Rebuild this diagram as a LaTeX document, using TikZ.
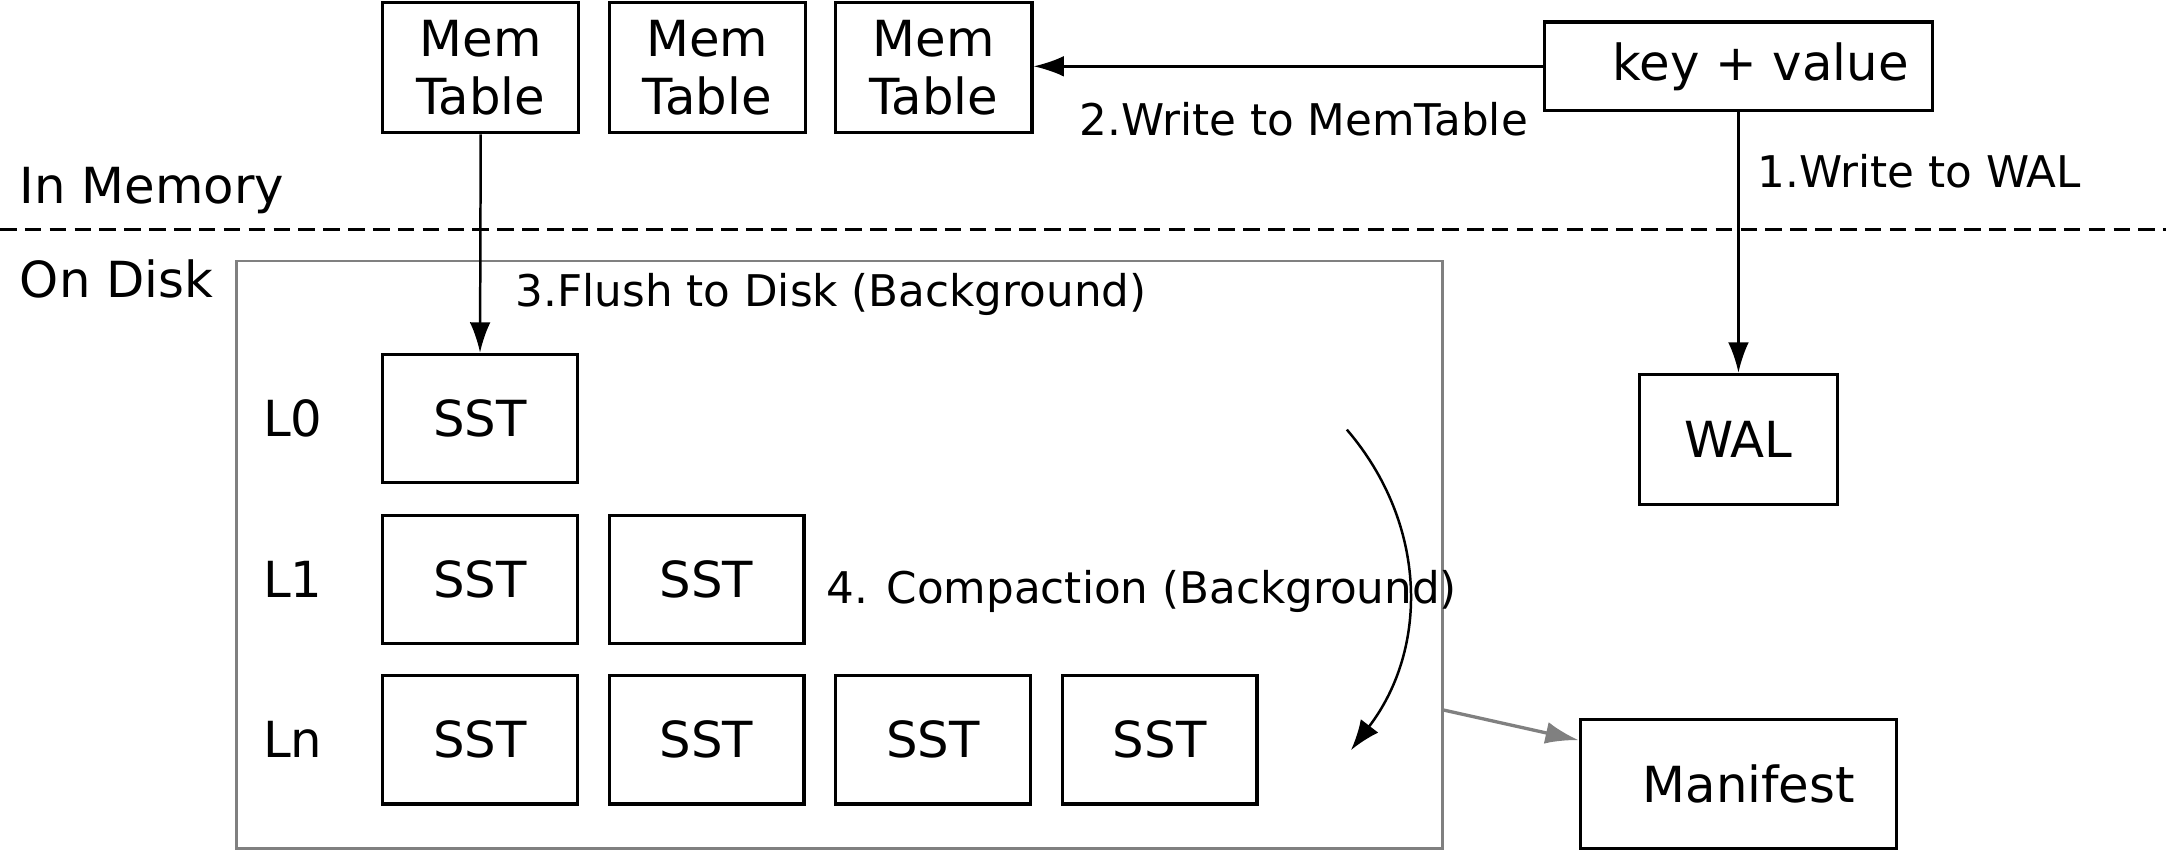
\documentclass[tikz,border=0pt]{standalone}
\usepackage{fontspec}
\setmainfont{DejaVu Sans}
\usetikzlibrary{arrows.meta}

\begin{document}
\begin{tikzpicture}[
	box/.style={draw, line width=1.2pt, inner sep=0pt, align=center,
		font=\fontsize{18pt}{21pt}\selectfont},
	memtab/.style={box, minimum width=71pt, minimum height=47pt},
	sst/.style={box, minimum width=70.5pt, minimum height=46.5pt},
	big/.style={anchor=west, inner sep=0pt, font=\fontsize{18pt}{21pt}\selectfont},
	lbl/.style={anchor=west, inner sep=0pt, font=\fontsize{15.8pt}{18pt}\selectfont},
	flow/.style={-{Latex[length=11pt,width=7.5pt]}, line width=0.9pt},
]

\def\dim{0.5pt}

\begin{scope}[x=\dim,y=\dim]
\useasboundingbox (0,0) rectangle (1568,617.5);

% in memory
\foreach \i\x in{1/348,2/512,3/676}{
	\node[memtab] (mem\i) at (\x,568.5) {Mem\\Table};
}
\node[box, minimum width=140.5pt, minimum height=32pt] (kv) at (1258.5,569.5) {\hspace*{16pt}key + value};
\node[box, minimum width=71.5pt, minimum height=47pt] (wal) at (1258.5,299.5) {WAL};

\draw[line width=1.2pt, dash pattern=on 6pt off 3pt] (0,451.5) -- (1568,451.5);
\node[big] (inmem) at (14,479.5) {In Memory};
\node[big] (ondisk) at (14,415.5) {On Disk};

% on disk
\node[draw=gray, line width=1pt, minimum width=436.5pt, minimum height=212.5pt, inner sep=0pt] (disk) at (607.5,216) {};
\foreach \l\y\n in{
	0/314.5/1
	,1/198/2
	,n/82/4
}{
	\node[big] (lvl\l) at (190,\y) {L\l};
	\foreach \i in {1,...,\n}{
		\node[sst] (sst\l\i) at ({183.5+164*\i},\y) {SST};
	}
}
\node[box, minimum width=114.5pt, minimum height=46.5pt] (manifest) at (1258.5,50) {\hspace*{7.5pt}Manifest};

% flows
\draw[flow] (kv.south) -- (wal.north);
\draw[flow] (kv.west) -- (kv.west -| mem3.east);
\draw[flow] (mem1.south) -- (sst01.north);
\coordinate (cmpstart) at (975,306.5);
\coordinate (cmpend) at (978,74.5);
\draw[flow, -{Latex[length=11pt,width=8pt]}] (cmpstart) .. controls (1034,237.5) and (1034,147.5) .. (cmpend);
\draw[gray, line width=1.2pt, -{Latex[length=12pt,width=8pt]}] ([yshift=50.5pt]disk.south east) -- ([yshift=-8pt]manifest.north west);

\node[lbl] (wrwal) at (1272,493.5) {1.Write to WAL};
\node[lbl] (wrmem) at (781,531.5) {2.Write to MemTable};
\node[lbl] (flush) at (373,404.5) {3.Flush to Disk (Background)};
\node[lbl] (compact) at (598,189.5) {4. Compaction (Background)};
\end{scope}

\end{tikzpicture}
\end{document}
